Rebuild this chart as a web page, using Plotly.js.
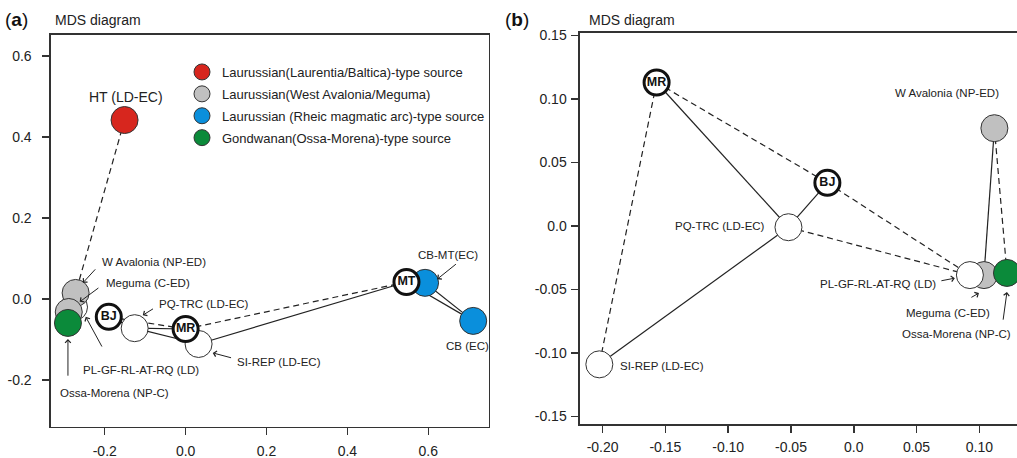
<!DOCTYPE html>
<html><head><meta charset="utf-8">
<script src="https://cdn.plot.ly/plotly-3.0.1.min.js"></script>
<style>html,body{margin:0;padding:0;background:#fff}</style>
</head><body><div id="chart" style="width:1017px;height:458px"></div>
<script>
// ---------- Panel (a) data ----------
const aCodes = ['HT','WAV','MEG','PLGF','OM','BJ','PQ','MR','SI','MT','CBMT','CB'];
const aX = [-0.151, -0.272, -0.289, -0.276, -0.291, -0.190, -0.126, 0.000, 0.032, 0.546, 0.592, 0.711];
const aY = [0.442, 0.015, -0.032, -0.020, -0.059, -0.044, -0.072, -0.074, -0.111, 0.042, 0.040, -0.054];
const aGroup = ['red','grey','grey','white','green','bold','white','bold','white','bold','blue','blue'];
const aSolid = [['BJ','PQ'],['PQ','MR'],['PQ','SI'],['SI','MT'],['MT','CB'],['CBMT','CB']];
const aDashed = [['HT','WAV'],['BJ','MR'],['MR','MT'],['MR','SI']];
const aXTicks = [-0.2, 0.0, 0.2, 0.4, 0.6];
const aXTickText = ['-0.2','0.0','0.2','0.4','0.6'];
const aYTicks = [-0.2, 0.0, 0.2, 0.4, 0.6];
const aYTickText = ['-0.2','0.0','0.2','0.4','0.6'];
const aLabelText = ['HT (LD-EC)','W Avalonia (NP-ED)','Meguma (C-ED)','PQ-TRC (LD-EC)','SI-REP (LD-EC)','PL-GF-RL-AT-RQ (LD)','Ossa-Morena (NP-C)','CB-MT(EC)','CB (EC)'];
const aLabelX = [-0.148, -0.212, -0.202, -0.072, 0.121, -0.259, -0.316, 0.570, 0.640];
const aLabelY = [0.499, 0.091, 0.040, -0.012, -0.156, -0.175, -0.232, 0.109, -0.116];
const aLabelAnchor = ['center','left','left','left','left','left','left','left','left'];
const aArrowTailX = [-0.220, -0.212, -0.077, 0.116, -0.205, -0.291, 0.672];
const aArrowTailY = [0.077, 0.030, -0.022, -0.146, -0.121, -0.193, 0.089];
const aArrowHeadX = [-0.254, -0.262, -0.106, 0.067, -0.247, -0.291, 0.622];
const aArrowHeadY = [0.040, -0.007, -0.040, -0.133, -0.044, -0.099, 0.049];

// ---------- Panel (b) data ----------
const bCodes = ['MR','BJ','PQ','SI','WAV','PLGF','MEG','OM'];
const bX = [-0.157, -0.021, -0.052, -0.2026, 0.112, 0.0925, 0.1037, 0.122];
const bY = [0.113, 0.034, -0.001, -0.109, 0.077, -0.0387, -0.0387, -0.037];
const bGroup = ['bold','bold','white','white','grey','white','grey','green'];
const bSolid = [['MR','PQ'],['BJ','PQ'],['SI','PQ'],['WAV','MEG']];
const bDashed = [['MR','SI'],['MR','BJ'],['BJ','PLGF'],['PQ','PLGF'],['WAV','OM']];
const bXTicks = [-0.20,-0.15,-0.10,-0.05,0.0,0.05,0.10];
const bXTickText = ['-0.20','-0.15','-0.10','-0.05','0.0','0.05','0.10'];
const bYTicks = [-0.15,-0.10,-0.05,0.0,0.05,0.10,0.15];
const bYTickText = ['-0.15','-0.10','-0.05','0.0','0.05','0.10','0.15'];
const bLabelText = ['W Avalonia (NP-ED)','PQ-TRC (LD-EC)','PL-GF-RL-AT-RQ (LD)','Meguma (C-ED)','Ossa-Morena (NP-C)','SI-REP (LD-EC)'];
const bLabelX = [0.0742, -0.0694, 0.067, 0.075, 0.0821, -0.1874];
const bLabelY = [0.105, 0.0, -0.0458, -0.0687, -0.0853, -0.1106];
const bLabelAnchor = ['center','right','right','center','center','left'];
const bArrowTailX = [0.0686, 0.0925, 0.1188];
const bArrowTailY = [-0.0434, -0.0569, -0.075];
const bArrowHeadX = [0.0805, 0.0997, 0.122];
const bArrowHeadY = [-0.0411, -0.0529, -0.052];

// ---------- groups ----------
const groupNames = {
  red: 'Laurussian(Laurentia/Baltica)-type source',
  grey: 'Laurussian(West Avalonia/Meguma)',
  blue: 'Laurussian (Rheic magmatic arc)-type source',
  green: 'Gondwanan(Ossa-Morena)-type source'
};
const groupColors = {red:'#d7261e', grey:'#c0c0c0', blue:'#0a8fdc', green:'#0b8a3a', white:'#ffffff', bold:'#ffffff'};
const FONT = 'Liberation Sans, Arial, sans-serif';
const INK = '#222';

function edgeTrace(codes, xs, ys, edges, dash, xa, ya) {
  const x = [], y = [];
  edges.forEach(([p, q]) => {
    const i = codes.indexOf(p), j = codes.indexOf(q);
    x.push(xs[i], xs[j], null); y.push(ys[i], ys[j], null);
  });
  return {type:'scatter', mode:'lines', x, y, xaxis:xa, yaxis:ya, showlegend:false, hoverinfo:'skip',
    line:{color:INK, width:1.2, dash: dash ? '6px,4px' : 'solid'}};
}

function pointTrace(codes, xs, ys, groups, order, xa, ya, legend) {
  const x = [], y = [], txt = [];
  order.forEach(code => {
    const i = codes.indexOf(code);
    x.push(xs[i]); y.push(ys[i]); txt.push(groups[i] === 'bold' ? '<b>' + code + '</b>' : '');
  });
  const g = groups[codes.indexOf(order[0])];
  const bold = g === 'bold';
  const t = {type:'scatter', mode: bold ? 'markers+text' : 'markers', x, y, text: txt,
    textposition:'middle center', textfont:{family:FONT, size:12.5, color:'#111'},
    xaxis:xa, yaxis:ya, hoverinfo:'skip', cliponaxis:true,
    marker:{size: bold ? 25 : 27, color: groupColors[g], line:{color: bold ? '#111' : '#333', width: bold ? 3 : 1}},
    showlegend:false};
  if (legend && groupNames[g]) { t.showlegend = true; t.name = groupNames[g]; t.legendgroup = g; }
  return t;
}

const traces = [
  edgeTrace(aCodes, aX, aY, aSolid, false, 'x', 'y'),
  edgeTrace(aCodes, aX, aY, aDashed, true, 'x', 'y'),
  pointTrace(aCodes, aX, aY, aGroup, ['PLGF','PQ','SI'], 'x', 'y', false),
  pointTrace(aCodes, aX, aY, aGroup, ['HT'], 'x', 'y', true),
  pointTrace(aCodes, aX, aY, aGroup, ['WAV','MEG'], 'x', 'y', true),
  pointTrace(aCodes, aX, aY, aGroup, ['CBMT','CB'], 'x', 'y', true),
  pointTrace(aCodes, aX, aY, aGroup, ['OM'], 'x', 'y', true),
  pointTrace(aCodes, aX, aY, aGroup, ['BJ','MR','MT'], 'x', 'y', false),
  edgeTrace(bCodes, bX, bY, bSolid, false, 'x2', 'y2'),
  edgeTrace(bCodes, bX, bY, bDashed, true, 'x2', 'y2'),
  pointTrace(bCodes, bX, bY, bGroup, ['SI','PQ'], 'x2', 'y2', false),
  pointTrace(bCodes, bX, bY, bGroup, ['MEG','WAV'], 'x2', 'y2', false),
  pointTrace(bCodes, bX, bY, bGroup, ['PLGF'], 'x2', 'y2', false),
  pointTrace(bCodes, bX, bY, bGroup, ['OM'], 'x2', 'y2', false),
  pointTrace(bCodes, bX, bY, bGroup, ['MR','BJ'], 'x2', 'y2', false)
];

const annotations = [];
function addLabels(texts, xs, ys, anchors, xr, yr, sizes) {
  texts.forEach((t, i) => annotations.push({text:t, x:xs[i], y:ys[i], xref:xr, yref:yr, xanchor:anchors[i], yanchor:'middle',
    showarrow:false, font:{family:FONT, size: sizes ? sizes[i] : 11.5, color:INK}}));
}
function addArrows(tx, ty, hx, hy, xr, yr) {
  tx.forEach((v, i) => annotations.push({text:'', x:hx[i], y:hy[i], ax:tx[i], ay:ty[i], xref:xr, yref:yr, axref:xr, ayref:yr,
    showarrow:true, arrowhead:4, arrowsize:1.1, arrowwidth:1, arrowcolor:INK, standoff:0, startstandoff:0}));
}
addLabels(aLabelText, aLabelX, aLabelY, aLabelAnchor, 'x', 'y', aLabelText.map((t,i)=> i===0 ? 14 : 11.5));
addArrows(aArrowTailX, aArrowTailY, aArrowHeadX, aArrowHeadY, 'x', 'y');
addLabels(bLabelText, bLabelX, bLabelY, bLabelAnchor, 'x2', 'y2');
addArrows(bArrowTailX, bArrowTailY, bArrowHeadX, bArrowHeadY, 'x2', 'y2');
annotations.push({text:'(<b>a</b>)', x:3/1017, y:1-20/458, xref:'paper', yref:'paper', xanchor:'left', yanchor:'middle', showarrow:false, font:{family:FONT, size:19, color:'#111'}});
annotations.push({text:'MDS diagram', x:53/1017, y:1-20/458, xref:'paper', yref:'paper', xanchor:'left', yanchor:'middle', showarrow:false, font:{family:FONT, size:14, color:INK}});
annotations.push({text:'(<b>b</b>)', x:503/1017, y:1-20/458, xref:'paper', yref:'paper', xanchor:'left', yanchor:'middle', showarrow:false, font:{family:FONT, size:19, color:'#111'}});
annotations.push({text:'MDS diagram', x:587/1017, y:1-20/458, xref:'paper', yref:'paper', xanchor:'left', yanchor:'middle', showarrow:false, font:{family:FONT, size:14, color:INK}});

const axisBase = {showgrid:false, zeroline:false, showline:true, linecolor:'#333', linewidth:1.5,
  ticks:'outside', ticklen:7, tickwidth:1.5, tickcolor:'#333', tickfont:{family:FONT, size:14, color:INK}, tickmode:'array'};

const layout = {
  width:1017, height:458, margin:{l:0, r:0, t:0, b:0}, paper_bgcolor:'#fff', plot_bgcolor:'#fff',
  showlegend:true,
  legend:{x:182/1017, y:1-57/458, xanchor:'left', yanchor:'top', bgcolor:'rgba(0,0,0,0)', traceorder:'grouped', tracegroupgap:2,
    font:{family:FONT, size:13, color:INK}, itemsizing:'trace'},
  xaxis:Object.assign({}, axisBase, {domain:[0.0501, 0.4808], range:[-0.333, 0.75], tickvals:aXTicks, ticktext:aXTickText, mirror:true, anchor:'y', ticklabelstandoff:4}),
  yaxis:Object.assign({}, axisBase, {domain:[0.0677, 0.9236], range:[-0.316, 0.652], tickvals:aYTicks, ticktext:aYTickText, mirror:true, anchor:'x', ticklabelstandoff:8}),
  xaxis2:Object.assign({}, axisBase, {domain:[0.5703, 1.0], range:[-0.218, 0.130], tickvals:bXTicks, ticktext:bXTickText, mirror:true, anchor:'y2', ticklabelstandoff:3}),
  yaxis2:Object.assign({}, axisBase, {domain:[0.0742, 0.928], range:[-0.156, 0.152], tickvals:bYTicks, ticktext:bYTickText, anchor:'x2', ticklabelstandoff:2}),
  annotations
};

Plotly.newPlot('chart', traces, layout, {staticPlot:true, displayModeBar:false});
</script></body></html>
